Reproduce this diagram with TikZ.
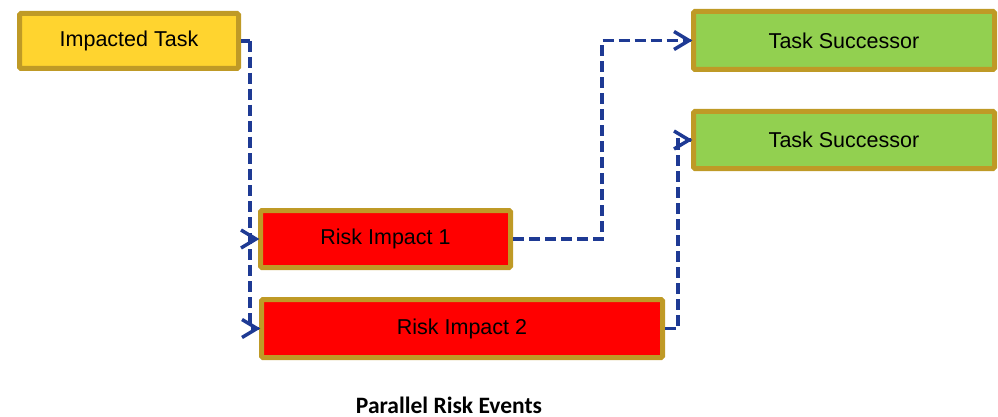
\documentclass[tikz,border=0pt]{standalone}
\usepackage{fontspec}
\setmainfont{Liberation Sans}
\newfontfamily\capfont{Carlito}
\usetikzlibrary{decorations.markings}
\definecolor{bordergold}{HTML}{BF9A26}
\definecolor{taskyellow}{HTML}{FFD42F}
\definecolor{succgreen}{HTML}{92D050}
\definecolor{riskred}{HTML}{FF0000}
\definecolor{linkblue}{HTML}{1E3A94}
\tikzset{
  box/.style={draw=bordergold, line width=5pt, rounded corners=1.5pt, outer sep=2.5pt, inner sep=0pt,
    font=\fontsize{21.5}{25}\selectfont, text=black},
  plain link/.style={draw=linkblue, line width=3.7pt, dash pattern=on 11pt off 5pt},
  link/.style={plain link, postaction={decorate},
    decoration={markings, mark=at position 1 with {\draw[solid, draw=linkblue, line width=3.5pt, line join=miter] (-17pt,9pt) -- (-2pt,0pt) -- (-17pt,-9pt);}}}
}
\begin{document}
\begin{tikzpicture}[x=1pt,y=-1pt]
\useasboundingbox (0,0) rectangle (998,417);
\node[box, fill=taskyellow, minimum width=219pt, minimum height=55pt] (it) at (129,41) {Impacted Task};
\node[box, fill=succgreen, minimum width=301pt, minimum height=58pt] (ts1) at (844,40.5) {Task Successor};
\node[box, fill=succgreen, minimum width=301pt, minimum height=57pt] (ts2) at (844,140) {Task Successor};
\node[box, fill=riskred, minimum width=250pt, minimum height=57pt] (ri1) at (385.5,239) {Risk Impact 1};
\node[box, fill=riskred, minimum width=401pt, minimum height=58pt] (ri2) at (462,328.5) {Risk Impact 2};
\coordinate (j) at (250,41);
\draw[plain link] (it.east) -- (j);
\draw[link] (j) |- (ri1.west);
\draw[link] (j) |- (ri2.west);
\draw[link] (ri1.east) -- ++(89,0) |- (ts1.west);
\draw[link] (ri2.east) -- ++(13,0) |- (ts2.west);
\node[anchor=base, font=\capfont\bfseries\fontsize{23.5}{28}\selectfont] (cap) at (449,413) {Parallel Risk Events};
\end{tikzpicture}
\end{document}
